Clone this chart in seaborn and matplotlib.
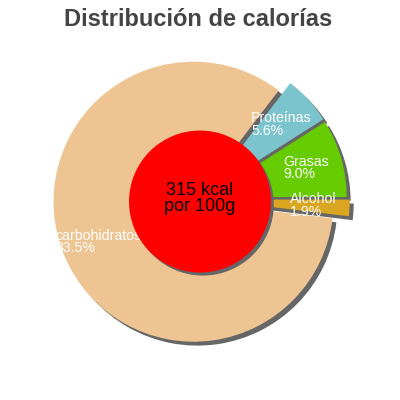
import numpy as np
import matplotlib
matplotlib.use("Agg")
import matplotlib.pyplot as plt
import seaborn as sns

# -------------------------------------------------------
# Data: share of calories per nutrient
# -------------------------------------------------------
nutrients = ["Alcohol", "Grasas", "Proteínas", "carbohidratos"]
percent = [1.9, 9.0, 5.6, 83.5]
slice_colors = ["#DAA520", "#66CC00", "#7CC4CD", "#EEC592"]
explode = [0.07, 0.05, 0.05, 0.05]
center_label = "315 kcal\npor 100g"
title = "Distribución de calorías"

# -------------------------------------------------------
# Style
# -------------------------------------------------------
sns.set_theme(style="white")
plt.rcParams["font.family"] = ["Liberation Sans", "DejaVu Sans"]
palette = sns.color_palette(slice_colors)

fig = plt.figure(figsize=(4, 4), dpi=100)
ax = fig.add_axes([0, 0, 1, 1])

# start so that Alcohol ends at 0 degrees
start = -360 * percent[0] / sum(percent)

wedges, _ = ax.pie(
    percent,
    colors=palette,
    explode=explode,
    startangle=start,
    radius=1.0,
    center=(0, 0),
    wedgeprops={"linewidth": 0},
    shadow={"ox": 0.02, "oy": -0.02, "facecolor": "#666666",
            "edgecolor": "none", "alpha": 1},
)

# pie() resets the limits, so set them afterwards (140 px per unit)
ax.set_aspect("equal")
ax.set_xlim(-200 / 140, 200 / 140)
ax.set_ylim(-201 / 140, 199 / 140)
ax.axis("off")

# labels: centered block, left-aligned lines
for w, name, p in zip(wedges, nutrients, percent):
    mid = np.deg2rad((w.theta1 + w.theta2) / 2)
    cx, cy = w.center
    x = cx + 0.74 * w.r * np.cos(mid)
    y = cy + 0.74 * w.r * np.sin(mid)
    ax.text(x, y, f"{name}\n{p:.1f}%", color="white", fontsize=10.2,
            ha="center", va="center", multialignment="left", linespacing=0.88)

# red center disc with its shadow
ax.add_patch(plt.Circle((0.02, -0.04), 0.507, color="#666666", zorder=3, lw=0))
ax.add_patch(plt.Circle((0, -0.018), 0.507, color="#FF0000", zorder=4, lw=0))
ax.text(0, 0.005, center_label, ha="center", va="center", fontsize=13,
        color="black", linespacing=0.95, zorder=5)

fig.text(198 / 400, 1 - 26 / 400, title, ha="center", va="baseline",
         fontsize=17, fontweight="bold", color="#444444")

fig.savefig("out.png", dpi=100)
